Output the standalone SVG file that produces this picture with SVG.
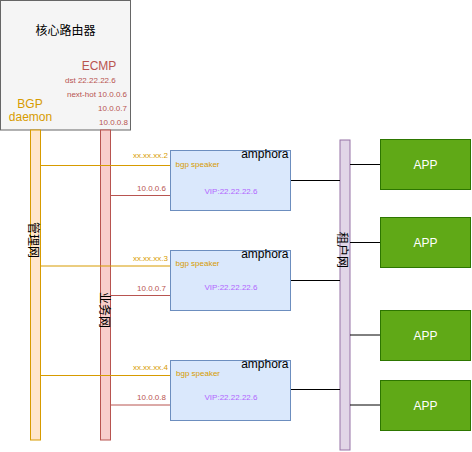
<svg xmlns="http://www.w3.org/2000/svg" width="472" height="452" viewBox="0 0 472 452">
<style>
text{font-family:"Liberation Sans",Arial,"Noto Sans CJK SC",sans-serif;}
.t12{font-size:12px;}
.t8{font-size:8px;}
.org{fill:#d79b00;}
.red{fill:#b85450;}
.vip{fill:#b266ff;}
.amph rect{fill:#dae8fc;stroke:#6c8ebf;stroke-width:1;}
.app rect{fill:#60a917;stroke:#2d7600;stroke-width:1;}
.app text{fill:#ffffff;font-size:12px;text-anchor:middle;}
.lo{stroke:#d79b00;stroke-width:1;fill:none;}
.lr{stroke:#b85450;stroke-width:1;fill:none;}
.lk{stroke:#000000;stroke-width:1;fill:none;}
.vl{font-size:12px;fill:#000;text-anchor:middle;}
</style>
<rect width="472" height="452" fill="#ffffff"/>
<g id="router">
<rect x="0.5" y="0.5" width="130" height="129.5" fill="#f5f5f5" stroke="#666666"/>
<text class="t12" x="65.5" y="35" text-anchor="middle" fill="#000">核心路由器</text>
<text class="t12 red" x="99" y="70" text-anchor="middle">ECMP</text>
<text class="t8 red" x="65" y="83">dst 22.22.22.6</text>
<text class="t8 red" x="127" y="97" text-anchor="end">next-hot 10.0.0.6</text>
<text class="t8 red" x="127" y="111" text-anchor="end">10.0.0.7</text>
<text class="t8 red" x="128" y="125" text-anchor="end">10.0.0.8</text>
<text class="t12 org" x="30" y="108" text-anchor="middle">BGP</text>
<text class="t12 org" x="30.5" y="121" text-anchor="middle">daemon</text>
</g>
<g id="mgmt-net">
<rect x="30.5" y="130" width="10" height="310" fill="#ffe6cc" stroke="#d79b00"/>
<text class="vl" transform="translate(28.5,240) rotate(90)">管理网</text>
</g>
<g id="biz-net">
<rect x="100.5" y="130" width="10" height="310" fill="#f8cecc" stroke="#b85450"/>
<text class="vl" transform="translate(99.5,310) rotate(90)">业务网</text>
</g>
<g id="tenant-net">
<rect x="340" y="140" width="10" height="310" fill="#e1d5e7" stroke="#9673a6"/>
<text class="vl" transform="translate(338,250) rotate(90)">租户网</text>
</g>
<g id="connectors">
<path class="lo" d="M40.5 165.5H170M40.5 266H170M40.5 375.5H170"/>
<path class="lr" d="M110.5 195.5H170M110.5 295.5H170M110.5 405H170"/>
<path class="lk" d="M290 180.5H340M290 280.5H340M290 389.5H340"/>
<path class="lk" d="M350 164.5H380M350 242.5H380M350 335H380M350 405H380"/>
<text class="t8 org" x="168" y="158" text-anchor="end">xx.xx.xx.2</text>
<text class="t8 red" x="166" y="191" text-anchor="end">10.0.0.6</text>
<text class="t8 org" x="168" y="261" text-anchor="end">xx.xx.xx.3</text>
<text class="t8 red" x="166" y="291" text-anchor="end">10.0.0.7</text>
<text class="t8 org" x="168" y="370" text-anchor="end">xx.xx.xx.4</text>
<text class="t8 red" x="166" y="400" text-anchor="end">10.0.0.8</text>
</g>
<g id="amphora1" class="amph">
<rect x="170.5" y="150.5" width="120" height="60"/>
<text class="t12" x="288.5" y="158" text-anchor="end" fill="#000">amphora</text>
<text class="t8 org" x="175.5" y="167">bgp speaker</text>
<text class="t8 vip" x="231" y="194" text-anchor="middle">VIP:22.22.22.6</text>
</g>
<g id="amphora2" class="amph">
<rect x="170.5" y="250.5" width="120" height="60"/>
<text class="t12" x="288.5" y="258" text-anchor="end" fill="#000">amphora</text>
<text class="t8 org" x="175.5" y="266">bgp speaker</text>
<text class="t8 vip" x="231" y="289.5" text-anchor="middle">VIP:22.22.22.6</text>
</g>
<g id="amphora3" class="amph">
<rect x="170.5" y="360.5" width="120" height="60"/>
<text class="t12" x="288.5" y="368" text-anchor="end" fill="#000">amphora</text>
<text class="t8 org" x="176" y="376">bgp speaker</text>
<text class="t8 vip" x="231" y="399.5" text-anchor="middle">VIP:22.22.22.6</text>
</g>
<g id="app1" class="app"><rect x="380.5" y="139.5" width="90" height="50"/><text x="425.5" y="169">APP</text></g>
<g id="app2" class="app"><rect x="380.5" y="217.5" width="90" height="50"/><text x="425.5" y="247">APP</text></g>
<g id="app3" class="app"><rect x="380.5" y="310.5" width="90" height="50"/><text x="425.5" y="340">APP</text></g>
<g id="app4" class="app"><rect x="380.5" y="380.5" width="90" height="50"/><text x="425.5" y="410">APP</text></g>
</svg>
